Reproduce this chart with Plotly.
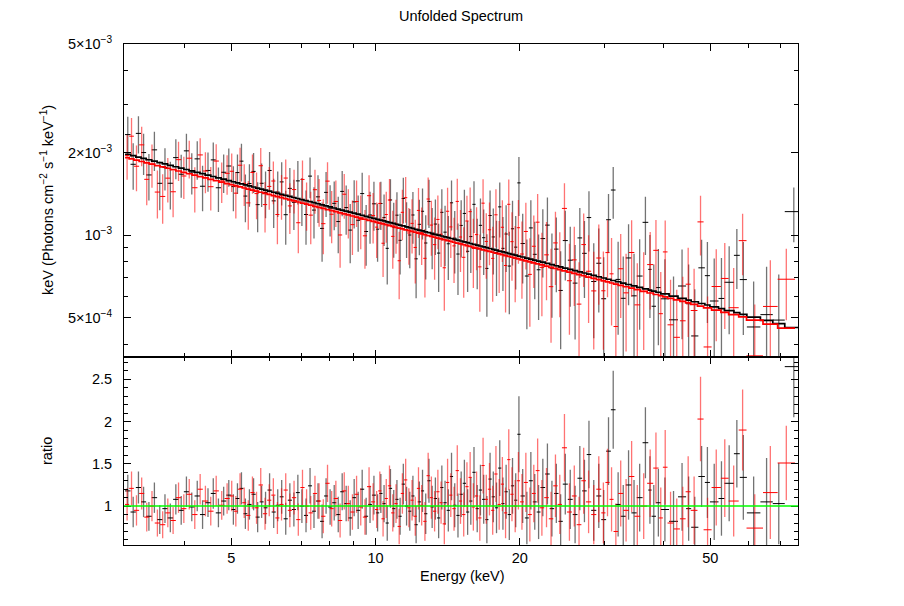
import numpy as np
import plotly.graph_objects as go

# ---------------- data ----------------
# Black data set: bin edges (keV), data/model ratio and 1-sigma error
edges_blk = [3.00, 3.08, 3.16, 3.24, 3.32, 3.41, 3.50, 3.59, 3.68, 3.78, 3.88, 3.98, 4.08, 4.19, 4.30, 4.41, 4.53, 4.64, 4.76, 4.88, 5.00,
             5.10, 5.20, 5.30, 5.40, 5.51, 5.62, 5.73, 5.84, 5.95, 6.07, 6.19, 6.31, 6.43, 6.56, 6.69, 6.82, 6.95, 7.09, 7.23, 7.37,
             7.51, 7.66, 7.81, 7.96, 8.12, 8.28, 8.44, 8.60, 8.77, 8.94, 9.11, 9.29, 9.47, 9.65, 9.83, 10.02,
             10.18, 10.34, 10.50, 10.66, 10.83, 11.00, 11.17, 11.34, 11.52, 11.70, 11.88, 12.06, 12.25, 12.44, 12.63, 12.83, 13.03,
             13.23, 13.44, 13.65, 13.86, 14.08, 14.30, 14.52, 14.75, 14.98, 15.21, 15.45, 15.69, 15.93, 16.18, 16.43, 16.69, 16.95,
             17.21, 17.48, 17.75, 18.03, 18.31, 18.59, 18.88, 19.17, 19.47, 19.77, 20.08,
             20.5, 20.9, 21.3, 21.7, 22.1, 22.6, 23.1, 23.6, 24.1, 24.6, 25.2, 25.8, 26.4, 27.0, 27.6, 28.2, 28.9, 29.6, 30.3, 31.0,
             31.7, 32.5, 33.3, 34.2, 35.1, 36.1, 37.1, 37.7, 38.5, 39.4, 41.0, 42.8, 44.5, 45.6, 47.2, 48.7, 49.9, 52.0, 53.5, 56.0,
             57.6, 59.6, 63.6, 67.5, 71.5, 78.0]
ratio_blk = [1.18, 0.93, 1.22, 1.05, 0.88, 1.10, 0.84, 0.97, 0.86, 1.08, 0.95, 1.17, 0.99, 1.12, 0.90, 1.04, 1.15, 0.92, 1.06, 1.13,
             0.96, 1.09, 1.21, 0.91, 1.02, 1.14, 0.87, 1.05, 0.98, 1.19, 0.93, 1.01, 1.11, 0.85, 1.07, 0.96, 1.16, 1.00, 0.89, 1.24,
             0.94, 1.06, 0.82, 1.12, 0.99, 1.04, 0.90, 1.17, 1.03, 0.86, 1.10, 0.95, 1.20, 0.88, 1.02, 1.13,
             0.92, 1.15, 1.03, 0.80, 1.21, 0.97, 1.08, 0.88, 1.26, 1.00, 0.94, 1.12, 0.78, 1.05, 1.18, 0.91, 1.30, 0.99, 1.09, 0.86,
             1.22, 1.04, 0.95, 1.35, 1.01, 0.89, 1.14, 1.27, 0.93, 1.06, 1.40, 0.97, 1.19, 1.08, 0.84, 1.32, 1.11, 0.98, 1.45, 1.03,
             1.17, 0.90, 1.24, 1.07, 1.85,
             1.12, 0.86, 1.30, 1.05, 0.93, 1.22, 1.38, 0.97, 1.15, 0.82, 1.26, 1.08, 0.90, 1.33, 1.18, 1.61, 0.95, 1.12, 0.84, 1.65,
             2.14, 1.02, 0.88, 1.25, 0.92, 1.10, 1.75, 1.19, 0.88, 1.04, 0.96, 0.82, 1.11, 0.97, 0.75, 1.35, 1.28, 1.05, 1.09, 1.27,
             1.62, 1.34, 0.92, 1.05, 1.03, 2.65]
rerr_blk = [0.19, 0.18, 0.19, 0.18, 0.17, 0.18, 0.17, 0.17, 0.17, 0.18, 0.17, 0.18, 0.17, 0.18, 0.17, 0.17, 0.18, 0.17, 0.17, 0.18,
            0.18, 0.18, 0.19, 0.18, 0.18, 0.19, 0.18, 0.19, 0.19, 0.20, 0.19, 0.19, 0.20, 0.19, 0.20, 0.20, 0.21, 0.20, 0.20, 0.21,
            0.20, 0.21, 0.20, 0.21, 0.21, 0.21, 0.21, 0.22, 0.21, 0.21, 0.22, 0.22, 0.23, 0.22, 0.22, 0.23,
            0.22, 0.23, 0.22, 0.21, 0.23, 0.22, 0.23, 0.22, 0.24, 0.23, 0.23, 0.24, 0.22, 0.24, 0.25, 0.24, 0.26, 0.25, 0.25, 0.24,
            0.26, 0.26, 0.25, 0.28, 0.26, 0.26, 0.27, 0.28, 0.27, 0.28, 0.30, 0.28, 0.30, 0.29, 0.28, 0.31, 0.30, 0.30, 0.33, 0.31,
            0.32, 0.30, 0.33, 0.32, 0.45,
            0.32, 0.31, 0.34, 0.33, 0.32, 0.34, 0.36, 0.33, 0.35, 0.32, 0.36, 0.35, 0.34, 0.38, 0.37, 0.40, 0.36, 0.38, 0.35, 0.40,
            0.46, 0.38, 0.37, 0.41, 0.39, 0.40, 0.42, 0.40, 0.37, 0.40, 0.38, 0.36, 0.40, 0.38, 0.36, 0.36, 0.42, 0.45, 0.44, 0.45,
            0.40, 0.50, 0.43, 0.52, 0.48, 0.60]

# Red data set
edges_red = [3.00, 3.06, 3.13, 3.21, 3.29, 3.37, 3.46, 3.55, 3.64, 3.73, 3.83, 3.93, 4.03, 4.14, 4.25, 4.36, 4.47, 4.59, 4.71, 4.84, 4.96,
             5.06, 5.16, 5.27, 5.37, 5.48, 5.59, 5.70, 5.82, 5.94, 6.06, 6.18, 6.30, 6.43, 6.56, 6.69, 6.83, 6.97, 7.11, 7.25, 7.40,
             7.55, 7.70, 7.86, 8.02, 8.18, 8.35, 8.52, 8.69, 8.86, 9.04, 9.22, 9.41, 9.60, 9.79, 9.98,
             10.13, 10.29, 10.45, 10.61, 10.78, 10.95, 11.12, 11.29, 11.47, 11.65, 11.83, 12.01, 12.20, 12.39, 12.58, 12.78, 12.98,
             13.18, 13.39, 13.60, 13.81, 14.03, 14.25, 14.47, 14.70, 14.93, 15.16, 15.40, 15.64, 15.88, 16.13, 16.38, 16.64, 16.90,
             17.16, 17.43, 17.70, 17.98, 18.26, 18.54, 18.83, 19.12, 19.42, 19.72, 20.03,
             20.4, 20.8, 21.2, 21.6, 22.0, 22.5, 23.0, 23.5, 24.0, 24.5, 25.1, 25.7, 26.3, 26.9, 27.5, 28.2, 28.9, 29.6, 30.2, 30.8,
             31.4, 32.1, 32.9, 33.8, 34.7, 35.7, 36.9, 38.0, 39.0, 39.8, 40.7, 41.9, 43.2, 44.4, 45.5, 47.0, 48.4, 50.3, 52.6, 54.6,
             57.3, 59.5, 64.4, 69.1, 75.1]
ratio_red = [1.02, 1.21, 0.95, 1.15, 0.87, 1.00, 0.80, 0.78, 0.92, 0.83, 1.10, 0.97, 1.14, 0.90, 1.20, 1.06, 0.94, 1.18, 1.01, 1.09,
             1.12, 0.94, 1.20, 1.04, 0.89, 1.16, 0.98, 1.25, 0.91, 1.07, 1.13, 0.86, 1.02, 1.19, 0.95, 1.10, 0.84, 1.22, 1.00, 0.92,
             1.15, 1.06, 0.88, 1.27, 0.97, 1.09, 0.83, 1.18, 1.03, 0.93, 1.14, 0.99, 0.87, 1.23, 1.05,
             0.96, 1.18, 0.85, 1.09, 1.24, 0.92, 1.03, 0.76, 1.15, 1.31, 0.98, 1.07, 0.88, 1.21, 1.01, 0.82, 1.36, 1.10, 0.94, 1.17,
             1.04, 0.79, 1.28, 1.13, 0.97, 1.42, 1.06, 0.90, 1.23, 1.34, 0.99, 1.12, 0.86, 1.48, 1.08, 1.20, 0.95, 1.38, 1.02, 1.26,
             0.92, 1.55, 1.14, 1.00, 1.30,
             1.05, 1.28, 0.90, 1.15, 1.42, 0.98, 1.10, 0.85, 1.24, 1.02, 1.69, 0.93, 1.12, 0.78, 1.30, 1.05, 0.90, 1.20, 0.92, 1.28,
             1.08, 0.70, 1.15, 0.95, 1.35, 0.88, 1.00, 1.27, 1.45, 0.86, 1.46, 0.80, 0.73, 0.85, 1.17, 0.95, 2.03, 0.72, 1.22, 1.33,
             1.06, 1.90, 0.74, 1.16, 1.51]
rerr_red = [0.19, 0.20, 0.18, 0.19, 0.17, 0.18, 0.16, 0.16, 0.17, 0.16, 0.18, 0.17, 0.18, 0.17, 0.18, 0.18, 0.17, 0.18, 0.17, 0.18,
            0.18, 0.18, 0.19, 0.18, 0.18, 0.19, 0.19, 0.20, 0.19, 0.19, 0.20, 0.19, 0.19, 0.20, 0.20, 0.20, 0.19, 0.21, 0.20, 0.20,
            0.21, 0.21, 0.20, 0.22, 0.21, 0.21, 0.20, 0.22, 0.21, 0.21, 0.22, 0.22, 0.21, 0.23, 0.22,
            0.22, 0.23, 0.21, 0.23, 0.24, 0.22, 0.23, 0.21, 0.24, 0.25, 0.23, 0.24, 0.23, 0.25, 0.24, 0.23, 0.27, 0.25, 0.24, 0.26,
            0.25, 0.24, 0.28, 0.26, 0.26, 0.30, 0.27, 0.26, 0.29, 0.30, 0.28, 0.29, 0.27, 0.33, 0.29, 0.31, 0.29, 0.33, 0.30, 0.32,
            0.30, 0.36, 0.32, 0.31, 0.34,
            0.33, 0.35, 0.32, 0.34, 0.38, 0.33, 0.35, 0.32, 0.37, 0.35, 0.40, 0.34, 0.36, 0.33, 0.39, 0.37, 0.35, 0.39, 0.36, 0.40,
            0.38, 0.33, 0.39, 0.37, 0.42, 0.37, 0.39, 0.40, 0.42, 0.36, 0.44, 0.37, 0.36, 0.38, 0.42, 0.40, 0.50, 0.38, 0.45, 0.46,
            0.42, 0.48, 0.40, 0.55, 0.44]

# Fitted power-law model (keV Photons cm^-2 s^-1 keV^-1) tabulated at energies
model_energy = [3.0, 5.0, 10.0, 20.0, 30.0, 50.0, 76.0]
model_blk = [1.990e-3, 1.577e-3, 1.150e-3, 8.39e-4, 6.98e-4, 5.53e-4, 4.57e-4]
model_red = [1.930e-3, 1.532e-3, 1.119e-3, 8.18e-4, 6.81e-4, 5.40e-4, 4.47e-4]

x_ticks = [5, 10, 20, 50]
x_minor = [4, 6, 7, 8, 9, 30, 40, 60, 70]
y_ticks = [5e-4, 1e-3, 2e-3, 5e-3]
y_ticktext = ["5×10<sup>−4</sup>", "10<sup>−3</sup>", "2×10<sup>−3</sup>", "5×10<sup>−3</sup>"]
y_minor = [4e-4, 6e-4, 7e-4, 8e-4, 9e-4, 3e-3, 4e-3]
r_ticks = [1, 1.5, 2, 2.5]
r_ticktext = ["1", "1.5", "2", "2.5"]

X_RANGE = [2.985, 76.2]
Y_RANGE = [3.61e-4, 5.0e-3]
R_RANGE = [0.54, 2.77]


def prep(edges, ratio, rerr, mv):
    n = min(len(edges) - 1, len(ratio), len(rerr))
    e = np.array(edges[:n + 1], dtype=float)
    lo, hi = e[:-1], e[1:]
    c = np.sqrt(lo * hi)
    r = np.array(ratio[:n], dtype=float)
    re = np.array(rerr[:n], dtype=float)
    m = 10 ** np.interp(np.log10(c), np.log10(model_energy), np.log10(mv))
    return lo, hi, c, r, re, m


FONT = "Liberation Sans, Arial, Helvetica, sans-serif"
FS = 14.5
# page body has an 8 px margin: figure coordinates = page coordinates - 8
OFF = 8
W, H = 904 - OFF, 606 - OFF
L, R, T, B = 124 - OFF, 106, 44 - OFF, 61
PW, PH = W - L - R, H - T - B

fig = go.Figure()

sets = [
    (edges_blk, ratio_blk, rerr_blk, model_blk, "black", "rgba(0,0,0,0.55)"),
    (edges_red, ratio_red, rerr_red, model_red, "red", "rgba(255,0,0,0.55)"),
]
prepped = []
for edges, ratio, rerr, mv, col, acol in sets:
    lo, hi, c, r, re, m = prep(edges, ratio, rerr, mv)
    prepped.append((lo, hi, m, col))
    for ax, yv, ye in (("y", r * m, re * m), ("y2", r, re)):
        fig.add_trace(go.Scatter(
            x=c, y=yv, mode="markers",
            marker=dict(size=1, color="rgba(0,0,0,0)"),
            error_x=dict(type="data", symmetric=False, array=hi - c, arrayminus=c - lo,
                         color=col, thickness=1, width=0),
            error_y=dict(type="data", array=ye, color=acol, thickness=1.3, width=0),
            xaxis="x" if ax == "y" else "x2", yaxis=ax,
            showlegend=False, hoverinfo="skip"))

for lo, hi, m, col in prepped:
    xs = np.column_stack([lo, hi]).ravel()
    ys = np.repeat(m, 2)
    fig.add_trace(go.Scatter(x=xs, y=ys, mode="lines", line=dict(color=col, width=1.7),
                             xaxis="x", yaxis="y", showlegend=False, hoverinfo="skip"))

SPLIT = (545 - 356.5) / PH

common_x = dict(type="log", range=[np.log10(X_RANGE[0]), np.log10(X_RANGE[1])],
                showline=True, linecolor="black", linewidth=1, mirror="allticks",
                ticks="inside", ticklen=7, tickcolor="black", tickwidth=1,
                tickmode="array", tickvals=x_ticks, ticktext=[str(v) for v in x_ticks],
                minor=dict(tickmode="array", tickvals=x_minor, ticks="inside", ticklen=4,
                           tickcolor="black", tickwidth=1),
                showgrid=False, zeroline=False,
                tickfont=dict(family=FONT, size=FS, color="black"))

fig.update_layout(
    width=W, height=H,
    margin=dict(l=L, r=R, t=T, b=B),
    paper_bgcolor="white", plot_bgcolor="white",
    title=dict(text="Unfolded Spectrum", x=0.5, xref="paper", y=1 - (16 - OFF) / H, yref="container",
               xanchor="center", yanchor="middle", font=dict(family=FONT, size=FS, color="black")),
    xaxis=dict(common_x, domain=[0, 1], anchor="y", showticklabels=False),
    xaxis2=dict(common_x, domain=[0, 1], anchor="y2", showticklabels=True),
    yaxis=dict(type="log", domain=[SPLIT, 1], anchor="x",
               range=[np.log10(Y_RANGE[0]), np.log10(Y_RANGE[1])],
               showline=True, linecolor="black", linewidth=1, mirror="allticks",
               ticks="inside", ticklen=7, tickcolor="black", ticklabelstandoff=8,
               tickmode="array", tickvals=y_ticks, ticktext=y_ticktext,
               minor=dict(tickmode="array", tickvals=y_minor, ticks="inside", ticklen=4, tickcolor="black"),
               showgrid=False, zeroline=False,
               tickfont=dict(family=FONT, size=FS, color="black")),
    yaxis2=dict(domain=[0, SPLIT], anchor="x2", range=R_RANGE,
                showline=True, linecolor="black", linewidth=1, mirror="allticks",
                ticks="inside", ticklen=7, tickcolor="black", ticklabelstandoff=8,
                tickmode="array", tickvals=r_ticks, ticktext=r_ticktext,
                minor=dict(tickmode="linear", tick0=0, dtick=0.1, ticks="inside", ticklen=4, tickcolor="black"),
                showgrid=False, zeroline=False,
                tickfont=dict(family=FONT, size=FS, color="black")),
    shapes=[dict(type="line", xref="x2 domain", x0=0, x1=1, yref="y2", y0=1, y1=1,
                 line=dict(color="#00ff00", width=1.5), layer="above")],
    annotations=[
        dict(text="keV (Photons cm<sup>−2</sup> s<sup>−1</sup> keV<sup>−1</sup>)", textangle=-90,
             xref="paper", yref="paper", x=(47 - 124) / PW, y=(545 - 200) / PH,
             xanchor="center", yanchor="middle", showarrow=False,
             font=dict(family=FONT, size=FS, color="black")),
        dict(text="ratio", textangle=-90,
             xref="paper", yref="paper", x=(47 - 124) / PW, y=(545 - 451) / PH,
             xanchor="center", yanchor="middle", showarrow=False,
             font=dict(family=FONT, size=FS, color="black")),
        dict(text="Energy (keV)", xref="paper", yref="paper", x=(462 - 124) / PW, y=(545 - 576) / PH,
             xanchor="center", yanchor="middle", showarrow=False,
             font=dict(family=FONT, size=FS, color="black")),
    ],
)

fig.write_html("out.html")
